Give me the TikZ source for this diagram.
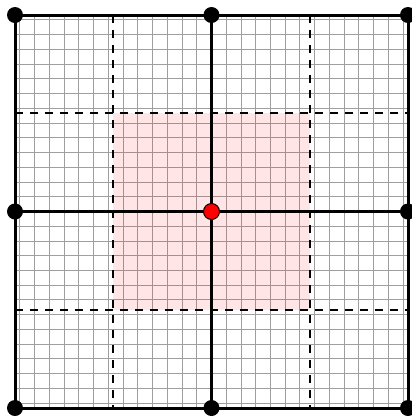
\documentclass[tikz,border=0pt]{standalone}
\begin{document}
\begin{tikzpicture}[x=0.5pt,y=-0.5pt,
  fineline/.style={draw=gray!75,line width=0.45pt},
  thickline/.style={draw=black,line width=1.5pt},
  dashline/.style={draw=black,line width=1pt,dash pattern=on 4pt off 3.5pt},
  blackdot/.style={circle,fill=black,minimum size=8pt,inner sep=0pt},
  reddot/.style={circle,fill=red,draw=black,line width=0.5pt,minimum size=8pt,inner sep=0pt}]
\useasboundingbox (0,0) rectangle (412,419);
% fine grid centred on the middle point
\foreach \k in {-13,...,13}{
  \draw[fineline] ({211.5+\k*14.74},15) -- ({211.5+\k*14.74},408);
  \draw[fineline] (15,{211.5+\k*14.74}) -- (408,{211.5+\k*14.74});
}
% shaded central square
\fill[red,fill opacity=0.1] (113.25,113.25) rectangle (309.75,309.75);
% dashed quarter lines
\draw[dashline] (113.25,15) -- (113.25,408);
\draw[dashline] (309.75,15) -- (309.75,408);
\draw[dashline] (15,113.25) -- (408,113.25);
\draw[dashline] (15,309.75) -- (408,309.75);
% named points
\coordinate (tl) at (15,15);
\coordinate (tm) at (211.5,15);
\coordinate (tr) at (408,15);
\coordinate (ml) at (15,211.5);
\coordinate (mm) at (211.5,211.5);
\coordinate (mr) at (408,211.5);
\coordinate (bl) at (15,408);
\coordinate (bm) at (211.5,408);
\coordinate (br) at (408,408);
% frame and central cross
\draw[thickline] (tl) -- (tr) -- (br) -- (bl) -- cycle;
\draw[thickline] (tm) -- (bm);
\draw[thickline] (ml) -- (mr);
% dots
\node[blackdot] (dtl) at (tl) {};
\node[blackdot] (dtm) at (tm) {};
\node[blackdot] (dtr) at (tr) {};
\node[blackdot] (dml) at (ml) {};
\node[blackdot] (dmr) at (mr) {};
\node[blackdot] (dbl) at (bl) {};
\node[blackdot] (dbm) at (bm) {};
\node[blackdot] (dbr) at (br) {};
\node[reddot] (dmm) at (mm) {};
\end{tikzpicture}
\end{document}
